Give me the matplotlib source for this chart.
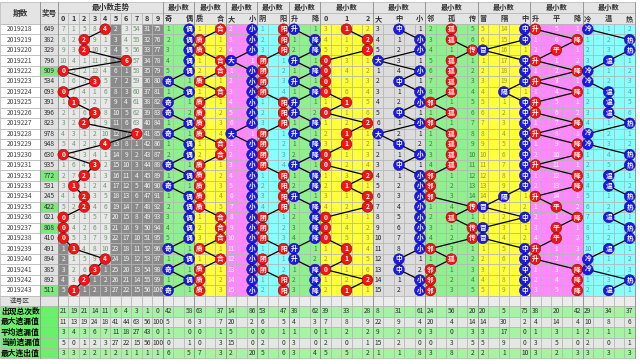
import matplotlib
matplotlib.use('Agg')
import matplotlib.pyplot as plt
from matplotlib.patches import Rectangle, Circle

plt.rcParams['font.family'] = ['Noto Sans CJK SC', 'DejaVu Sans']

# 期号和开奖号
periods = ['2019218', '2019219', '2019220', '2019221', '2019222', '2019223', '2019224',
           '2019225', '2019226', '2019227', '2019228', '2019229', '2019230', '2019231',
           '2019232', '2019233', '2019234', '2019235', '2019236', '2019237', '2019238',
           '2019239', '2019240', '2019241', '2019242', '2019243']
draws = ['649', '382', '329', '796', '909', '534', '093', '391', '396', '823', '978', '948', '630',
         '935', '772', '531', '245', '422', '021', '808', '410', '491', '894', '385', '892', '511']
pair_draw = [0, 0, 0, 0, 1, 0, 0, 0, 0, 0, 0, 0, 0, 0, 1, 0, 0, 1, 0, 1, 0, 0, 0, 0, 0, 1]

# 最小数走势
min_digit = [4, 2, 2, 6, 0, 3, 0, 1, 3, 2, 7, 4, 0, 3, 2, 1, 2, 2, 0, 0, 0, 1, 4, 3, 2, 1]
digit_init = [6, 0, 4, 7, 0, 1, 2, 53, 30, 74]

# 各分区出号位置 (0/1/2 = 第几栏)
jiou_hits = [1, 1, 1, 1, 1, 0, 1, 0, 0, 1, 0, 1, 1, 0, 1, 0, 1, 1, 1, 1, 1, 0, 1, 0, 1, 0]
zhihe_hits = [1, 0, 0, 1, 1, 0, 1, 0, 0, 0, 0, 1, 1, 0, 0, 0, 0, 0, 1, 1, 1, 0, 1, 0, 0, 0]
daxiao_hits = [1, 1, 1, 0, 1, 1, 1, 1, 1, 1, 0, 1, 1, 1, 1, 1, 1, 1, 1, 1, 1, 1, 1, 1, 1, 1]
yinyang_hits = [1, 1, 1, 0, 0, 0, 0, 1, 1, 1, 0, 0, 0, 0, 1, 1, 1, 1, 0, 0, 0, 1, 0, 0, 1, 1]
shengjiang_hits = [0, 1, 1, 0, 1, 0, 1, 0, 0, 1, 0, 1, 1, 0, 1, 1, 0, 1, 1, 1, 1, 0, 0, 1, 1, 1]
lu012_hits = [1, 2, 2, 0, 0, 0, 0, 1, 0, 2, 1, 1, 0, 0, 2, 1, 2, 2, 0, 0, 0, 1, 1, 0, 2, 1]
dzx_hits = [1, 2, 2, 0, 2, 1, 2, 2, 1, 2, 0, 1, 2, 1, 2, 2, 2, 2, 2, 2, 2, 2, 1, 1, 2, 2]
lgc_hits = [1, 1, 2, 1, 1, 1, 1, 0, 1, 0, 1, 1, 1, 1, 0, 0, 0, 2, 1, 2, 2, 0, 1, 0, 0, 0]
mgz_hits = [2, 2, 0, 2, 2, 2, 1, 2, 2, 2, 2, 2, 2, 2, 2, 2, 1, 0, 2, 0, 0, 2, 2, 2, 2, 2]
spj_hits = [0, 2, 1, 0, 2, 0, 2, 0, 0, 2, 0, 2, 2, 0, 2, 2, 0, 1, 2, 1, 1, 0, 0, 2, 2, 2]
lwr_hits = [0, 2, 2, 1, 0, 0, 1, 1, 1, 2, 0, 0, 2, 2, 1, 1, 2, 2, 1, 2, 2, 1, 0, 0, 2, 1]

# 第一期之前的遗漏
jiou_init = [0, 0]
zhihe_init = [0, 0]
daxiao_init = [1, 0]
yinyang_init = [0, 0]
shengjiang_init = [0, 0]
lu012_init = [2, 0, 1]
dzx_init = [2, 0, 0]
lgc_init = [1, 0, 4]
mgz_init = [4, 13, 0]
spj_init = [0, 4, 0]
lwr_init = [0, 0, 1]

# 统计行
stat_names = ['出现总次数', '最大遗漏值', '平均遗漏值', '当前遗漏值', '最大连出值']
appear = [21, 19, 21, 14, 11, 6, 4, 3, 1, 0, 42, 58, 63, 37, 14, 86, 53, 47, 38, 62,
          39, 33, 28, 8, 31, 61, 24, 56, 20, 20, 5, 75, 38, 20, 42, 29, 34, 37]
max_miss = [11, 13, 19, 24, 18, 41, 44, 63, 56, 100, 5, 6, 3, 7, 20, 2, 6, 5, 4, 3,
            7, 8, 9, 22, 9, 4, 20, 4, 14, 14, 30, 2, 4, 14, 4, 10, 8, 6]
avg_miss = [3, 4, 3, 6, 7, 11, 18, 27, 43, 0, 1, 0, 0, 1, 5, 0, 0, 1, 1, 0,
            1, 2, 2, 9, 2, 0, 3, 0, 3, 3, 17, 0, 1, 3, 1, 2, 1, 1]
cur_miss = [5, 0, 1, 2, 3, 27, 22, 15, 56, 100, 0, 1, 0, 3, 15, 0, 2, 0, 3, 0,
            2, 0, 1, 15, 2, 0, 0, 3, 5, 5, 9, 0, 3, 5, 0, 2, 0, 1]
max_run = [3, 3, 2, 2, 1, 2, 1, 1, 1, 1, 6, 5, 7, 3, 2, 20, 5, 6, 3, 4,
           5, 5, 2, 1, 1, 8, 3, 8, 2, 2, 1, 10, 3, 2, 3, 3, 3, 3]

group_labels = [['奇', '偶'], ['质', '合'], ['大', '小'], ['阴', '阳'], ['升', '降'],
                ['0', '1', '2'], ['大', '中', '小'], ['邻', '孤', '传'], ['冒', '隔', '中'],
                ['升', '平', '降'], ['冷', '温', '热']]
group_hits = [jiou_hits, zhihe_hits, daxiao_hits, yinyang_hits, shengjiang_hits,
              lu012_hits, dzx_hits, lgc_hits, mgz_hits, spj_hits, lwr_hits]
group_init = [jiou_init, zhihe_init, daxiao_init, yinyang_init, shengjiang_init,
              lu012_init, dzx_init, lgc_init, mgz_init, spj_init, lwr_init]

GREEN, YELLOW, PINK, CYAN, GREY = '#90f090', '#ffff3c', '#ff88ff', '#88ffff', '#dcdcdc'
RED, BLUE = '#f41414', '#1a1ae6'
group_bg = [GREEN, YELLOW, PINK, CYAN, GREEN, YELLOW, GREY, GREEN, YELLOW, PINK, CYAN]
group_txt = {GREEN: '#3f7f3f', YELLOW: '#9a9a40', PINK: '#ffffff', CYAN: '#5f9f9f', GREY: '#202020'}
group_ball = [BLUE, RED, BLUE, RED, BLUE, RED, BLUE, RED, BLUE, RED, BLUE]

W = 10.49      # 单元格宽
X0 = 58.0      # 走势区起点
TOP = 24.0     # 数据区起点
RH = 10.45     # 行高
FS = 4.8
LINE = '#b4b4b4'
n = len(periods)

fig = plt.figure(figsize=(6.4, 3.64), dpi=100)
ax = fig.add_axes([0, 0, 1, 1])
ax.set_xlim(0, 640)
ax.set_ylim(364, 0)
ax.axis('off')


def cell(x, y, w, h, fc, z=1):
    ax.add_patch(Rectangle((x, y), w, h, facecolor=fc, edgecolor=LINE, linewidth=0.5, zorder=z))


def txt(x, y, s, color='#333333', size=FS, weight='normal', z=3):
    ax.text(x, y, s, ha='center', va='center', fontsize=size, color=color,
            fontweight=weight, zorder=z)


def ball(x, y, s, color):
    ax.add_patch(Circle((x, y), 5.4, facecolor=color, edgecolor='#600000' if color == RED else '#000060',
                        linewidth=0.3, zorder=6))
    txt(x, y - 0.3, s, color='white', size=4.8, weight='bold', z=7)


def miss_table(hits, init):
    cur = list(init)
    out = []
    for h in hits:
        for j in range(len(cur)):
            cur[j] = 0 if j == h else cur[j] + 1
        out.append(list(cur))
    return out


def ycen(r):
    return TOP + (r + 0.5) * RH


# 表头
HEAD = '#e4e4e4'
cell(0, 2, 40, TOP - 2, HEAD)
cell(40, 2, 18, TOP - 2, HEAD)
txt(20, 13, '期数', weight='bold', size=5.5)
txt(49, 13, '奖号', weight='bold', size=5.5)
cell(X0, 2, 10 * W, 11, HEAD)
txt(X0 + 5 * W, 7.5, '最小数走势', weight='bold', size=5.5)
for j in range(10):
    cell(X0 + j * W, 13, W, 11, HEAD)
    txt(X0 + (j + 0.5) * W, 18.5, str(j), weight='bold', size=5.2)

# 各栏位置
opt_x = [X0 + (j + 0.5) * W for j in range(10)]
gx = X0 + 10 * W
group_start = []
for labels in group_labels:
    ncell = 3 if len(labels) == 2 else 5
    group_start.append(gx)
    cell(gx, 2, ncell * W, 11, HEAD)
    txt(gx + ncell * W / 2, 7.5, '最小数', weight='bold', size=5.2)
    cell(gx, 13, ncell * W, 11, HEAD)
    for i, lab in enumerate(labels):
        px = gx + (2 * i + 0.5) * W
        opt_x.append(px)
        txt(px, 18.5, lab, weight='bold', size=5.2)
    gx += ncell * W

# 期号、奖号
for r in range(n):
    y = TOP + r * RH
    cell(0, y, 40, RH, 'white')
    txt(20, ycen(r), periods[r], color='#404040')
    cell(40, y, 18, RH, '#7ee87e' if pair_draw[r] else '#e0e0e0')
    txt(49, ycen(r), draws[r], color='#303030')

# 最小数走势
digit_miss = miss_table(min_digit, digit_init)
last_hit = [max([r for r in range(n) if min_digit[r] == j], default=-1) for j in range(10)]
for r in range(n):
    for j in range(10):
        dark = r > last_hit[j]
        cell(X0 + j * W, TOP + r * RH, W, RH, '#8a8a8a' if dark else '#e8e8e8')
        if min_digit[r] != j:
            txt(opt_x[j], ycen(r), str(digit_miss[r][j]), color='#f4f4f4' if dark else '#6a9a6a')
ax.plot([opt_x[d] for d in min_digit], [ycen(r) for r in range(n)], color='black', lw=0.9, zorder=5)
for r in range(n):
    ball(opt_x[min_digit[r]], ycen(r), str(min_digit[r]), RED)

# 各分区
k = 10
for g, labels in enumerate(group_labels):
    s = group_start[g]
    ncell = 3 if len(labels) == 2 else 5
    bg = group_bg[g]
    gm = miss_table(group_hits[g], group_init[g])
    xs = opt_x[k:k + len(labels)]
    for r in range(n):
        for c in range(ncell):
            cell(s + c * W, TOP + r * RH, W, RH, bg)
        for i in range(len(labels)):
            if group_hits[g][r] != i:
                txt(xs[i], ycen(r), str(gm[r][i]), color=group_txt[bg])
    ax.plot([xs[h] for h in group_hits[g]], [ycen(r) for r in range(n)], color='black', lw=0.9, zorder=5)
    for r in range(n):
        h = group_hits[g][r]
        ball(xs[h], ycen(r), labels[h], group_ball[g])
    k += len(labels)

# 选号区
ysel = TOP + n * RH
cell(0, ysel, 40, RH, '#e4e4e4')
txt(20, ysel + RH / 2, '选号区', color='#404040')
cell(40, ysel, 18, RH, '#e4e4e4')
for c in range(55):
    cell(X0 + c * W, ysel, W, RH, '#ececec')

# 统计
stat_rows = [appear, max_miss, avg_miss, cur_miss, max_run]
for si, vals in enumerate(stat_rows):
    y = ysel + (si + 1) * RH
    cell(0, y, 58, RH, '#6cf06c')
    ax.text(1, y + RH / 2, stat_names[si], ha='left', va='center', fontsize=5.6,
            fontweight='bold', color='black', zorder=3)
    fc = '#a4f4a4' if si % 2 == 0 else '#e6e6e6'
    for c in range(55):
        cell(X0 + c * W, y, W, RH, fc)
    for i, v in enumerate(vals):
        txt(opt_x[i], y + RH / 2, str(v), color='#303030')

# 分区分隔线
for s in group_start + [X0 + 55 * W, X0, 40]:
    ax.plot([s, s], [2, ysel + 6 * RH], color='#909090', lw=0.6, zorder=4)

plt.savefig('out.png', dpi=100)
